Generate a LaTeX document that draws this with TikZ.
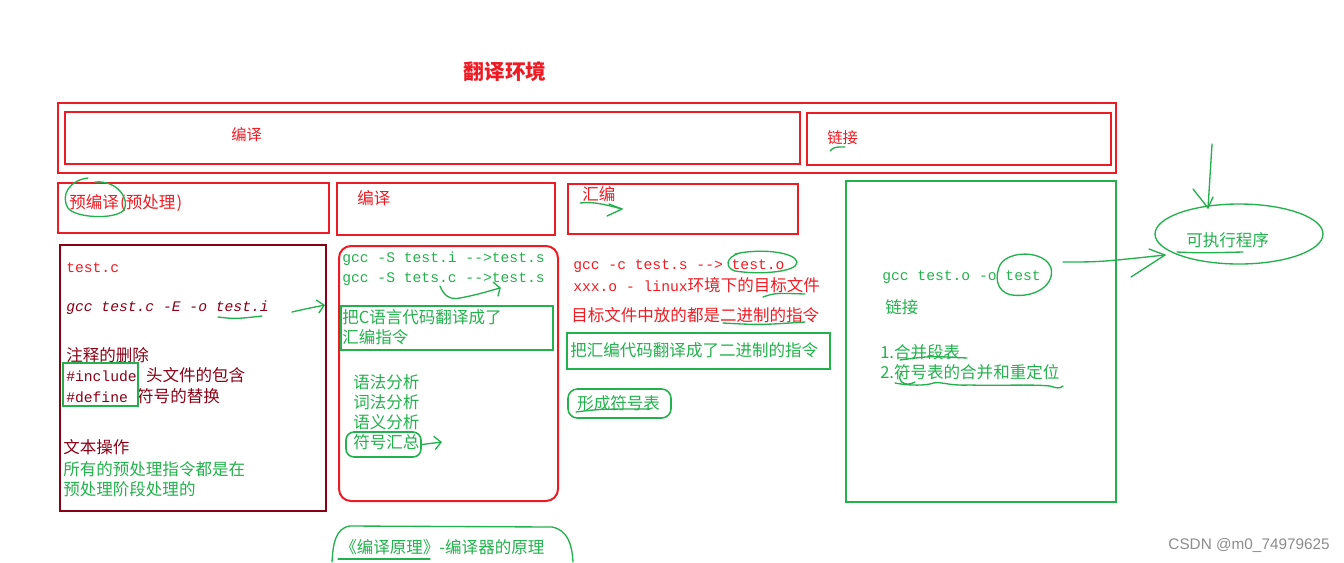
\documentclass[tikz,border=0pt]{standalone}
\usepackage{fontspec}
\setmainfont{Liberation Serif}
\newfontfamily\zhfont{Noto Sans CJK SC}
\newfontfamily\mymono{Liberation Mono}
\newfontfamily\mysans{Liberation Sans}
\usetikzlibrary{arrows.meta,fit,shapes.geometric}
\definecolor{pred}{HTML}{ED1C24}
\definecolor{pgreen}{HTML}{22B14C}
\definecolor{pmaroon}{HTML}{880015}
\tikzset{
  redbox/.style={draw=pred, line width=1.5pt, inner sep=0pt},
  grnbox/.style={draw=pgreen, line width=1.5pt, inner sep=0pt},
  marbox/.style={draw=pmaroon, line width=1.5pt, inner sep=0pt},
  hand/.style={draw=pgreen, line width=1pt, line cap=round, line join=round},
  harrow/.style={hand, -{Straight Barb[length=5pt,width=10pt]}},
  zh/.style={anchor=west, inner sep=0pt, font=\zhfont\fontsize{12.4}{15}\selectfont},
  zhs/.style={anchor=west, inner sep=0pt, font=\zhfont\fontsize{11.5}{14}\selectfont},
  mn/.style={anchor=west, inner sep=0pt, font=\mymono\fontsize{11}{13}\selectfont},
}
\begin{document}
\begin{tikzpicture}[x=0.75pt,y=-0.75pt]
\useasboundingbox (0,0) rectangle (1344,562);
% title
\node[font=\zhfont\bfseries\fontsize{15.5}{18}\selectfont, text=pred, inner sep=0pt] (title) at (505,72) {翻译环境};
% top frame
\node[redbox, fit={(58,103) (1116,173)}] (outer) {};
\node[redbox, fit={(65,112) (800,164)}] (topcomp) {};
\node[redbox, fit={(807,113) (1111,165)}] (toplink) {};
\node[zhs, text=pred] (tcomp) at (231,135) {编译};
\node[zhs, text=pred] (tlink) at (827,138) {链接};
\draw[hand] (830,151) .. controls (834,147) .. (845,147);
% second row boxes
\node[redbox, fit={(58,183) (329,233)}] (prebox) {};
\node[redbox, fit={(337,183) (555,235)}] (compbox) {};
\node[redbox, fit={(568,184) (798,234)}] (asmbox) {};
\node[zh, text=pred] (tpre) at (69,203) {预编译\hspace{1pt}(预处理\hspace{1pt})};
\node[zh, text=pred] (tcomp2) at (357,198) {编译};
\node[zh, text=pred] (tasm) at (582,194) {汇编};
\draw[hand] (88,178) .. controls (70,180) and (60,195) .. (68,208)
  .. controls (75,218) and (115,220) .. (124,210)
  .. controls (130,200) and (118,180) .. (95,182);
\draw[hand] (580,203) .. controls (595,201) and (610,206) .. (622,209);
\draw[hand] (609,204) -- (622,209) -- (607,216);
% preprocessing column
\node[marbox, fit={(60,245) (326,511)}] (prebody) {};
\node[mn, text=pred] (tc) at (66,268) {test.c};
\node[mn, text=pmaroon, font=\mymono\itshape\fontsize{11}{13}\selectfont] (gcce) at (66,308) {gcc test.c -E -o test.i};
\draw[hand] (218,317) .. controls (235,319) .. (262,316);
\coordinate (pa1) at (292,312);
\coordinate (pa2) at (325,305);
\draw[harrow] (pa1) .. controls (305,309) .. (pa2);
\node[zh, text=pmaroon] (z1) at (66,355) {注释的删除};
\node[zh, text=pmaroon] (z2) at (66,375) {{\mymono\fontsize{11}{13}\selectfont \#include}\hspace{7pt}头文件的包含};
\node[zh, text=pmaroon] (z3) at (66,396) {{\mymono\fontsize{11}{13}\selectfont \#define}\hspace{7pt}符号的替换};
\node[draw=pgreen, line width=1.2pt, inner sep=0pt, fit={(63,363) (138,406)}] (incbox) {};
\node[zh, text=pmaroon] (z4) at (63,447) {文本操作};
\node[zh, text=pgreen] (z5) at (63,469) {所有的预处理指令都是在};
\node[zh, text=pgreen] (z6) at (63,489) {预处理阶段处理的};
% compile column
\node[draw=pred, line width=1.5pt, rounded corners=9pt, inner sep=0pt, fit={(339,246) (558,501)}] (compbody) {};
\node[mn, text=pgreen] (s1) at (342,259) {gcc -S test.i -->test.s};
\node[mn, text=pgreen] (s2) at (342,279) {gcc -S tets.c -->test.s};
\coordinate (sa1) at (440,286);
\coordinate (sa2) at (500,288);
\draw[hand] (sa1) .. controls (444,296) and (450,300) .. (460,298) .. controls (475,295) .. (sa2);
\draw[hand] (493,282) -- (sa2) -- (498,296);
\node[grnbox, fit={(341,306) (553,350)}] (cbox) {};
\node[zh, text=pgreen] (c1) at (342,317) {把C语言代码翻译成了};
\node[zh, text=pgreen] (c2) at (342,337) {汇编指令};
\node[zh, text=pgreen] (c3) at (353,382) {语法分析};
\node[zh, text=pgreen] (c4) at (353,402) {词法分析};
\node[zh, text=pgreen] (c5) at (353,422) {语义分析};
\node[zh, text=pgreen] (c6) at (353,442) {符号汇总};
\node[draw=pgreen, line width=1.2pt, rounded corners=6pt, inner sep=0pt, fit={(346,432) (421,457)}] (symbox) {};
\coordinate (ya) at (442,442);
\draw[harrow] (symbox.east) -- (ya);
% assemble column
\node[mn, text=pred] (a1) at (573,266) {gcc -c test.s --> test.o};
\draw[hand] (735,254) .. controls (760,248) and (795,252) .. (797,262)
  .. controls (798,272) and (760,275) .. (735,271)
  .. controls (725,268) and (725,257) .. (740,253);
\node[zh, text=pred] (a2) at (573,285) {{\mymono\fontsize{11}{13}\selectfont xxx.o - linux}环境下的目标文件};
\draw[hand] (763,297) .. controls (775,293) .. (805,294);
\node[zh, text=pred] (a3) at (571,315) {目标文件中放的都是二进制的指令};
\draw[hand] (723,323) .. controls (760,325) .. (805,322);
\node[grnbox, fit={(567,333) (830,369)}] (abox) {};
\node[zh, text=pgreen] (a4) at (570,350) {把汇编代码翻译成了二进制的指令};
\node[draw=pgreen, line width=1.2pt, rounded corners=7pt, inner sep=0pt, fit={(568,389) (671,418)}] (symtab) {};
\node[zh, text=pgreen] (a5) at (577,403) {形成符号表};
\draw[hand] (576,412) .. controls (600,409) .. (650,409);
% link column
\node[grnbox, fit={(846,181) (1116,502)}] (linkbody) {};
\node[mn, text=pgreen] (l1) at (882,277) {gcc test.o -o test};
\draw[hand] (1000,265) .. controls (1008,250) and (1045,250) .. (1051,268)
  .. controls (1055,285) and (1035,298) .. (1012,295)
  .. controls (995,292) and (995,275) .. (1000,265);
\node[zh, text=pgreen] (l2) at (885,307) {链接};
\node[zh, text=pgreen] (l3) at (880,352) {1.合并段表};
\node[zh, text=pgreen] (l4) at (880,372) {2.符号表的合并和重定位};
\draw[hand] (900,360) .. controls (930,356) .. (967,358);
\draw[hand] (895,383) .. controls (905,385) and (920,386) .. (930,384)
  .. controls (940,380) and (945,386) .. (970,385)
  .. controls (1000,386) and (1030,384) .. (1050,386)
  .. controls (1056,388) and (1060,389) .. (1063,386);
\draw[hand] (902,372) .. controls (895,380) and (905,388) .. (915,382);
\node[draw=pgreen, line width=1pt, ellipse, minimum width=126pt, minimum height=45pt, inner sep=0pt] (exe) at (1239,234) {};
\node[zh, text=pgreen] (l5) at (1186,240) {可执行程序};
\draw[hand] (1177,252) .. controls (1200,253) .. (1243,252);
\coordinate (la1) at (1063,262);
\coordinate (la2) at (1165,255);
\draw[hand] (la1) .. controls (1100,262) .. (la2);
\draw[hand] (1149,249) -- (la2) -- (1131,277);
\coordinate (va1) at (1212,144);
\coordinate (va2) at (1208,208);
\draw[hand] (va1) -- (va2);
\draw[hand] (1193,189) -- (va2) -- (1213,197);
% bottom
\node[zh, text=pgreen] (bt) at (340,547) {《编译原理》-编译器的原理};
\draw[hand] (332,562) .. controls (333,545) and (335,528) .. (350,526)
  -- (552,527) .. controls (568,530) and (572,545) .. (573,562);
\draw[hand] (338,559) -- (430,559);
\node[anchor=east, inner sep=0pt, text=black!45, font=\mysans\fontsize{11.5}{14}\selectfont] (wm) at (1330,545) {CSDN @m0\_74979625};
\end{tikzpicture}
\end{document}
